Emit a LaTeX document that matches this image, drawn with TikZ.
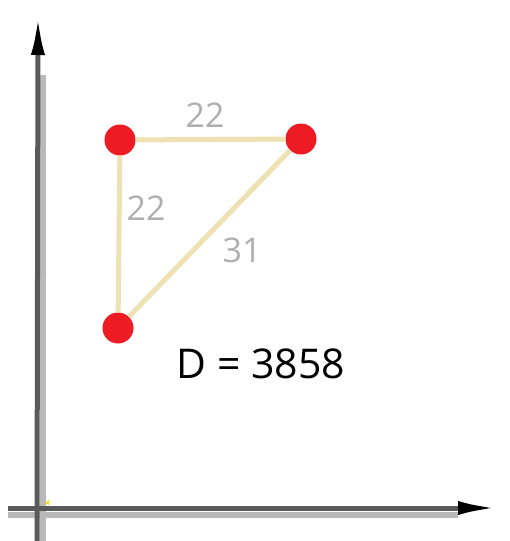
\documentclass[tikz,border=0pt]{standalone}
\usepackage{fontspec}
\setmainfont{Open Sans}
\usetikzlibrary{arrows.meta}

\definecolor{edgetan}{RGB}{238,226,178}
\definecolor{dotred}{RGB}{237,28,36}
\definecolor{labgray}{RGB}{175,175,175}
\definecolor{axdark}{RGB}{90,90,90}
\definecolor{axlight}{RGB}{185,185,185}

\tikzset{
  city/.style={circle, fill=dotred, inner sep=0pt, minimum size=31pt},
  road/.style={draw=edgetan, line width=5pt},
  dist/.style={text=labgray, font=\fontsize{34}{34}\selectfont, inner sep=0pt},
  axdk/.style={draw=axdark, line width=5pt},
  axlt/.style={draw=axlight, line width=6pt},
  axtip/.style={-{Latex[length=40pt,width=14pt,black]}},
}

\begin{document}
\begin{tikzpicture}[x=1pt, y=-1pt]
  \useasboundingbox (0,0) rectangle (510,541);
  \fill[white] (0,0) rectangle (510,541);

  % axes (hand drawn look: dark line with a lighter shadow)
  \coordinate (ybot) at (37,541);
  \coordinate (ytop) at (38,15);
  \coordinate (xbeg) at (8,508);
  \coordinate (xend) at (498,508);
  \draw[axlt] ([xshift=6pt]ybot) -- ([xshift=5pt,yshift=-60pt]ytop);
  \draw[axlt] ([yshift=-7pt]xbeg) -- ([xshift=-40pt,yshift=-7pt]xend);
  \draw[axdk, axtip] (ybot) -- (ytop);
  \draw[axdk, axtip] (xbeg) -- (xend);
  \fill[yellow!80!orange] (45,503) -- (49,500) -- (49,505) -- cycle;

  % cities
  \node[city] (a) at (120,140) {};
  \node[city] (b) at (301,139) {};
  \node[city] (c) at (118,328) {};

  % roads
  \draw[road] (a) -- (b);
  \draw[road] (a) -- (c);
  \draw[road] (b) -- (c);

  % distances
  \node[dist] (ab) at (205,115) {22};
  \node[dist] (ac) at (146,208) {22};
  \node[dist] (bc) at (242,250) {31};

  \node[font=\fontsize{41}{41}\selectfont, inner sep=0pt] (total) at (261,364) {D = 3858};
\end{tikzpicture}
\end{document}
